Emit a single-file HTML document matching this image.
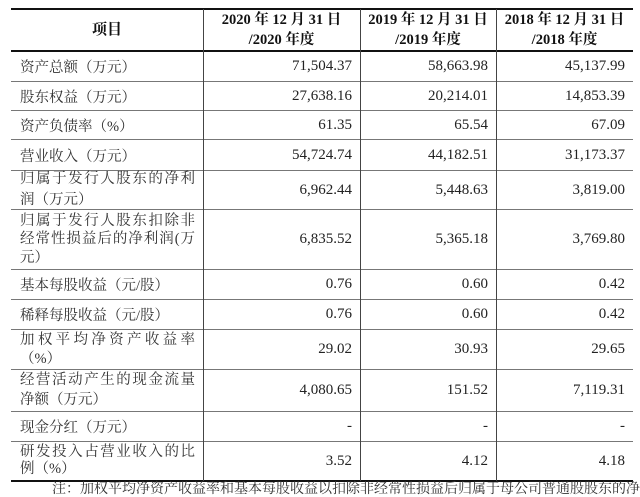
<!DOCTYPE html>
<html><head><meta charset="utf-8">
<style>
html,body{margin:0;padding:0;background:#fff;}
body{width:640px;height:487px;position:relative;overflow:hidden;color:#222;
font-family:"Liberation Serif","Noto Serif CJK SC",serif;}
.hl{position:absolute;left:11px;width:622px;height:1px;background:#777;}
.hk{position:absolute;left:11px;width:622px;height:2px;background:#111;}
.vl{position:absolute;top:9px;width:1px;height:472px;background:#444;}
.row{position:absolute;left:0;width:640px;}
.lab{position:absolute;left:20px;width:175px;top:0;bottom:0;display:flex;flex-direction:column;justify-content:center;
font-family:"Liberation Serif","Noto Serif CJK SC",serif;font-size:14.5px;color:#333;}
.lab div{white-space:nowrap;}
.lab .j{text-align:justify;text-align-last:justify;}
.num{position:absolute;top:0;bottom:0;display:flex;align-items:center;justify-content:flex-end;font-size:15px;color:#222;}
.c1{left:203px;width:149px;}
.c2{left:360px;width:128px;}
.c3{left:496px;width:129px;}
.hd{position:absolute;font-weight:bold;font-size:14.5px;text-align:center;line-height:20px;color:#111;}
</style></head><body>

<!-- lines -->
<div class="hk" style="top:8px"></div>
<div class="hk" style="top:50px"></div>
<div class="hl" style="top:81px"></div>
<div class="hl" style="top:110px"></div>
<div class="hl" style="top:139px"></div>
<div class="hl" style="top:170px"></div>
<div class="hl" style="top:209px"></div>
<div class="hl" style="top:269px"></div>
<div class="hl" style="top:299px"></div>
<div class="hl" style="top:329px"></div>
<div class="hl" style="top:369px"></div>
<div class="hl" style="top:411px"></div>
<div class="hl" style="top:441px"></div>
<div class="hk" style="top:480px"></div>
<div class="vl" style="left:203px"></div>
<div class="vl" style="left:360px"></div>
<div class="vl" style="left:496px"></div>

<!-- header -->
<div class="hd" style="left:11px;width:192px;top:20px;font-size:15px;">项目</div>
<div class="hd" style="left:203px;width:157px;top:10px;">2020 年 12 月 31 日<br>/2020 年度</div>
<div class="hd" style="left:360px;width:136px;top:10px;">2019 年 12 月 31 日<br>/2019 年度</div>
<div class="hd" style="left:496px;width:137px;top:10px;">2018 年 12 月 31 日<br>/2018 年度</div>

<div class="row" style="top:52px;height:29px">
<div class="lab"><div>资产总额（万元）</div></div>
<div class="num c1">71,504.37</div><div class="num c2">58,663.98</div><div class="num c3">45,137.99</div></div>

<div class="row" style="top:82px;height:28px">
<div class="lab"><div>股东权益（万元）</div></div>
<div class="num c1">27,638.16</div><div class="num c2">20,214.01</div><div class="num c3">14,853.39</div></div>

<div class="row" style="top:111px;height:28px">
<div class="lab"><div>资产负债率（%）</div></div>
<div class="num c1">61.35</div><div class="num c2">65.54</div><div class="num c3">67.09</div></div>

<div class="row" style="top:140px;height:30px">
<div class="lab"><div>营业收入（万元）</div></div>
<div class="num c1">54,724.74</div><div class="num c2">44,182.51</div><div class="num c3">31,173.37</div></div>

<div class="row" style="top:171px;height:38px">
<div class="lab" style="line-height:21px"><div class="j">归属于发行人股东的净利</div><div>润（万元）</div></div>
<div class="num c1">6,962.44</div><div class="num c2">5,448.63</div><div class="num c3">3,819.00</div></div>

<div class="row" style="top:210px;height:59px">
<div class="lab" style="line-height:18.5px"><div class="j">归属于发行人股东扣除非</div><div class="j">经常性损益后的净利润(万</div><div>元）</div></div>
<div class="num c1">6,835.52</div><div class="num c2">5,365.18</div><div class="num c3">3,769.80</div></div>

<div class="row" style="top:270px;height:29px">
<div class="lab"><div>基本每股收益（元/股）</div></div>
<div class="num c1">0.76</div><div class="num c2">0.60</div><div class="num c3">0.42</div></div>

<div class="row" style="top:300px;height:29px">
<div class="lab"><div>稀释每股收益（元/股）</div></div>
<div class="num c1">0.76</div><div class="num c2">0.60</div><div class="num c3">0.42</div></div>

<div class="row" style="top:330px;height:39px">
<div class="lab" style="line-height:18.5px"><div class="j">加权平均净资产收益率</div><div>（%）</div></div>
<div class="num c1">29.02</div><div class="num c2">30.93</div><div class="num c3">29.65</div></div>

<div class="row" style="top:370px;height:41px">
<div class="lab" style="line-height:19.5px"><div class="j">经营活动产生的现金流量</div><div>净额（万元）</div></div>
<div class="num c1">4,080.65</div><div class="num c2">151.52</div><div class="num c3">7,119.31</div></div>

<div class="row" style="top:412px;height:29px">
<div class="lab"><div>现金分红（万元）</div></div>
<div class="num c1">-</div><div class="num c2">-</div><div class="num c3">-</div></div>

<div class="row" style="top:442px;height:38px">
<div class="lab" style="line-height:17px"><div class="j">研发投入占营业收入的比</div><div>例（%）</div></div>
<div class="num c1">3.52</div><div class="num c2">4.12</div><div class="num c3">4.18</div></div>

<div style="position:absolute;left:52px;top:483px;font-size:14px;line-height:14px;color:#333;white-space:nowrap;font-family:'Liberation Serif','Noto Serif CJK SC',serif;">注：加权平均净资产收益率和基本每股收益以扣除非经常性损益后归属于母公司普通股股东的净利润</div>

</body></html>
